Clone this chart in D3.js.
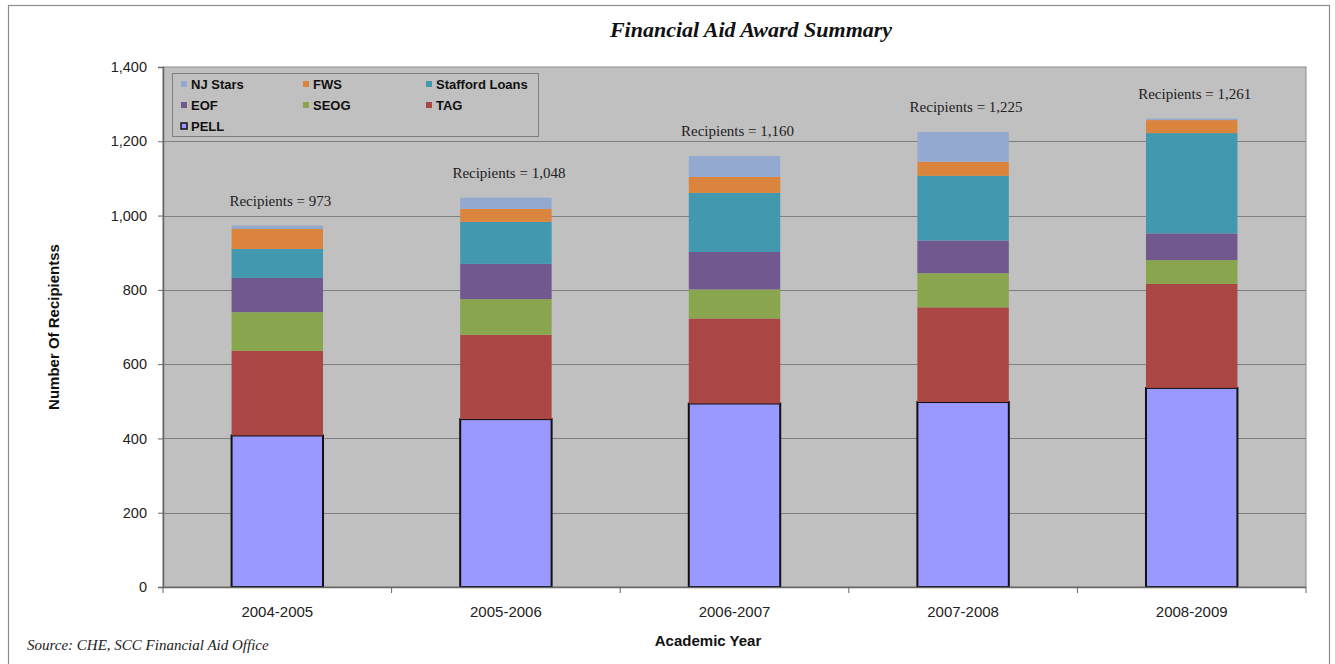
<!DOCTYPE html>
<html>
<head>
<meta charset="utf-8">
<script src="https://cdn.jsdelivr.net/npm/d3@7"></script>
<style>
  html, body { margin: 0; padding: 0; background: #fff; }
  svg { display: block; }
</style>
</head>
<body>
<svg id="chart" width="1335" height="664"></svg>
<script>
// Academic years on the x axis
const years = ["2004-2005", "2005-2006", "2006-2007", "2007-2008", "2008-2009"];

// Recipients per aid program, stacked bottom to top
const pell     = [408, 452, 494, 498, 536];
const tag      = [228, 227, 229, 255, 280];
const seog     = [104,  96,  78,  92,  64];
const eof      = [ 92,  95, 101,  88,  72];
const stafford = [ 78, 113, 159, 174, 270];
const fws      = [ 54,  35,  43,  38,  35];
const njStars  = [  9,  30,  56,  80,   4];

// Total recipients stated above each bar
const totals = [973, 1048, 1160, 1225, 1261];

// Y axis ticks
const yTicks = [0, 200, 400, 600, 800, 1000, 1200, 1400];

const seriesNames = ["PELL", "TAG", "SEOG", "EOF", "Stafford Loans", "FWS", "NJ Stars"];
const seriesValues = [pell, tag, seog, eof, stafford, fws, njStars];
const colors = {
  "PELL": "#9999FF",
  "TAG": "#AA4643",
  "SEOG": "#89A54E",
  "EOF": "#71588F",
  "Stafford Loans": "#4198AF",
  "FWS": "#DB843D",
  "NJ Stars": "#93A9CF"
};

// Row-wise table for d3.stack
const table = years.map((y, i) => {
  const row = { year: y };
  seriesNames.forEach((n, k) => row[n] = seriesValues[k][i]);
  return row;
});

const svg = d3.select("#chart");
const margin = { left: 163, right: 1306, top: 67, bottom: 587 };
const sans = "Liberation Sans, Arial, sans-serif";
const serif = "Liberation Serif, Times New Roman, serif";

// Outer frame
svg.append("rect")
  .attr("x", 8.5).attr("y", 5.5)
  .attr("width", 1321).attr("height", 680)
  .attr("fill", "#fff").attr("stroke", "#8c8c8c").attr("stroke-width", 1.2);

const x = d3.scaleBand().domain(years).range([margin.left, margin.right]).paddingInner(0.6).paddingOuter(0.3);
const xCat = d3.scaleBand().domain(years).range([margin.left, margin.right]);
const y = d3.scaleLinear().domain([0, 1400]).range([margin.bottom, margin.top]);

// Plot background
svg.append("rect")
  .attr("x", margin.left).attr("y", margin.top)
  .attr("width", margin.right - margin.left).attr("height", margin.bottom - margin.top)
  .attr("fill", "#C0C0C0").attr("stroke", "#8c8c8c").attr("stroke-width", 1);

// Gridlines
svg.append("g").selectAll("line")
  .data(yTicks.filter(t => t > 0 && t < 1400))
  .join("line")
  .attr("x1", margin.left).attr("x2", margin.right)
  .attr("y1", d => Math.round(y(d)) + 0.5).attr("y2", d => Math.round(y(d)) + 0.5)
  .attr("stroke", "#7f7f7f").attr("stroke-width", 1);

// Stacked bars
const stack = d3.stack().keys(seriesNames);
const layers = stack(table);

const gBars = svg.append("g");
layers.forEach(layer => {
  const isPell = layer.key === "PELL";
  gBars.append("g").selectAll("rect")
    .data(layer)
    .join("rect")
    .attr("x", d => x(d.data.year))
    .attr("width", x.bandwidth())
    .attr("y", d => y(d[1]))
    .attr("height", d => y(d[0]) - y(d[1]))
    .attr("fill", colors[layer.key])
    .attr("stroke", isPell ? "#111" : "none")
    .attr("stroke-width", isPell ? 2 : 0);
});

// Y axis
const yAxis = d3.axisLeft(y).tickValues(yTicks).tickSize(5).tickPadding(11)
  .tickFormat(d3.format(","));
const gy = svg.append("g").attr("transform", `translate(${margin.left},0)`).call(yAxis);
gy.select(".domain").attr("stroke", "#666").attr("stroke-width", 1.5);
gy.selectAll(".tick line").attr("stroke", "#666");
gy.selectAll(".tick text")
  .attr("font-family", sans)
  .attr("font-size", 14.5).attr("fill", "#222");

// X axis: ticks on category boundaries
const gx = svg.append("g").attr("transform", `translate(0,${margin.bottom})`);
gx.append("line")
  .attr("x1", margin.left).attr("x2", margin.right)
  .attr("y1", 0.5).attr("y2", 0.5)
  .attr("stroke", "#666").attr("stroke-width", 1.5);
const boundaries = years.map(d => xCat(d)).concat([margin.right]);
gx.selectAll("line.tk").data(boundaries).join("line").attr("class", "tk")
  .attr("x1", d => d).attr("x2", d => d)
  .attr("y1", 0).attr("y2", 6)
  .attr("stroke", "#666");
gx.selectAll("text").data(years).join("text")
  .attr("x", d => xCat(d) + xCat.bandwidth() / 2)
  .attr("y", 30)
  .attr("text-anchor", "middle")
  .attr("font-family", sans)
  .attr("font-size", 15).attr("fill", "#222")
  .text(d => d);

// Total labels above bars
svg.append("g").selectAll("text")
  .data(years)
  .join("text")
  .attr("x", (d) => x(d) + x.bandwidth() / 2 + 3)
  .attr("y", (d, i) => y(totals[i]) - 20)
  .attr("text-anchor", "middle")
  .attr("font-family", serif)
  .attr("font-size", 15).attr("fill", "#222")
  .text((d, i) => "Recipients = " + d3.format(",")(totals[i]));

// Title
svg.append("text")
  .attr("x", 751).attr("y", 37)
  .attr("text-anchor", "middle")
  .attr("font-family", serif)
  .attr("font-size", 22).attr("font-weight", "bold").attr("font-style", "italic")
  .attr("fill", "#111")
  .text("Financial Aid Award Summary");

// Axis titles
svg.append("text")
  .attr("transform", `translate(59,${(margin.top + margin.bottom) / 2}) rotate(-90)`)
  .attr("text-anchor", "middle")
  .attr("font-family", sans)
  .attr("font-size", 15).attr("font-weight", "bold").attr("fill", "#111")
  .text("Number Of Recipientss");

svg.append("text")
  .attr("x", 708).attr("y", 646)
  .attr("text-anchor", "middle")
  .attr("font-family", sans)
  .attr("font-size", 15).attr("font-weight", "bold").attr("fill", "#111")
  .text("Academic Year");

// Source note
svg.append("text")
  .attr("x", 27).attr("y", 650)
  .attr("font-family", serif)
  .attr("font-size", 15).attr("font-style", "italic").attr("fill", "#222")
  .text("Source:  CHE, SCC Financial Aid Office");

// Legend
const legendOrder = [
  ["NJ Stars", "FWS", "Stafford Loans"],
  ["EOF", "SEOG", "TAG"],
  ["PELL"]
];
const legend = svg.append("g");
legend.append("rect")
  .attr("x", 172.5).attr("y", 73.5).attr("width", 366).attr("height", 63)
  .attr("fill", "#C0C0C0").attr("stroke", "#7f7f7f").attr("stroke-width", 1);
const colX = [181, 303, 426];
const rowY = [84, 105, 126];
legendOrder.forEach((row, r) => {
  row.forEach((name, c) => {
    const g = legend.append("g").attr("transform", `translate(${colX[c]},${rowY[r]})`);
    g.append("rect")
      .attr("x", 0).attr("y", -3).attr("width", 6).attr("height", 6)
      .attr("fill", colors[name])
      .attr("stroke", name === "PELL" ? "#111" : "none")
      .attr("stroke-width", name === "PELL" ? 1.5 : 0);
    g.append("text")
      .attr("x", 10).attr("y", 5)
      .attr("font-family", sans)
      .attr("font-size", 13).attr("font-weight", "bold").attr("fill", "#111")
      .text(name);
  });
});
</script>
</body>
</html>
